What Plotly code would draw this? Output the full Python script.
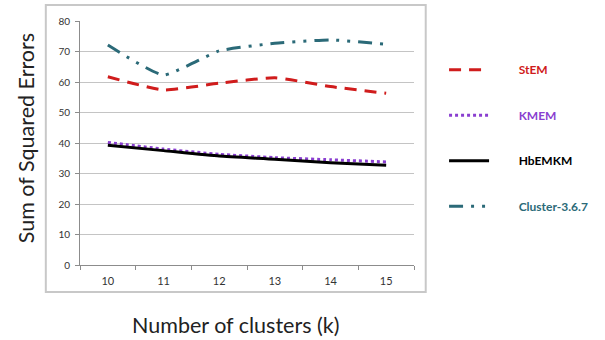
import plotly.graph_objects as go

clusters = ["10", "11", "12", "13", "14", "15"]
stem = [61.7, 57.4, 59.6, 61.4, 58.5, 56.3]
kmem = [40.2, 38.0, 36.3, 35.2, 34.5, 33.8]
hbemkm = [39.3, 37.5, 35.7, 34.7, 33.5, 32.7]
cluster367 = [72.1, 62.3, 70.2, 72.7, 73.8, 72.4]
y_ticks = [0, 10, 20, 30, 40, 50, 60, 70, 80]

series = [
    ("StEM", stem, "#d01c1c", "12px,8px", 3),
    ("KMEM", kmem, "#8a3fd0", "dot", 3),
    ("HbEMKM", hbemkm, "#000000", "solid", 3),
    ("Cluster-3.6.7", cluster367, "#2b6a78", "14px,8px,3px,8px,3px,8px", 3),
]

fig = go.Figure()
for i, (name, vals, color, dash, w) in enumerate(series):
    fig.add_trace(go.Scatter(
        x=clusters, y=vals, mode="lines",
        name=f"&nbsp;&nbsp;&nbsp;&nbsp;&nbsp;&nbsp;&nbsp;&nbsp;<b><span style='color:{color}'>{name}</span></b>",
        line=dict(color=color, dash=dash, width=w, shape="spline", smoothing=0.45),
        legendgroup=str(i),
    ))

font = "Lato, 'Open Sans', sans-serif"
fig.update_layout(
    width=605, height=340,
    margin=dict(l=80, r=183, t=21, b=75),
    paper_bgcolor="white", plot_bgcolor="white",
    font=dict(family=font, size=11, color="#333333"),
    showlegend=True,
    legend=dict(x=1.09, y=0.86, xanchor="left", yanchor="top",
                tracegroupgap=26.5, font=dict(size=12, family=font),
                itemwidth=40),
    xaxis=dict(
        type="category", range=[-0.5, 5.5],
        showline=True, linecolor="#8c8c8c", linewidth=1,
        ticks="outside", tickson="boundaries", ticklen=4, tickcolor="#8c8c8c",
        showgrid=False, ticklabelstandoff=6,
        tickfont=dict(size=11, color="#333333"),
    ),
    yaxis=dict(
        range=[0, 80], tickvals=y_ticks, showline=True, linecolor="#8c8c8c", linewidth=1,
        ticks="outside", ticklen=4, tickcolor="#8c8c8c",
        showgrid=True, gridcolor="#c4c4c4", gridwidth=1, ticklabelstandoff=3,
        tickfont=dict(size=10, color="#333333"),
        zeroline=False,
    ),
    annotations=[
        dict(text="Number of clusters (k)", xref="paper", yref="paper",
             x=(239 - 80) / 342, y=(265 - 325) / 244, xanchor="center", yanchor="middle",
             showarrow=False, font=dict(size=21.5, color="#222222", family=font)),
        dict(text="Sum of Squared Errors", xref="paper", yref="paper",
             x=(25 - 80) / 342, y=(265 - 138) / 244, xanchor="center", yanchor="middle",
             textangle=-90, showarrow=False, font=dict(size=21.5, color="#222222", family=font)),
    ],
    shapes=[dict(
        type="rect", xref="paper", yref="paper", layer="below",
        x0=(45 - 80) / 342, x1=(434 - 80) / 342,
        y0=(265 - 292) / 244, y1=(265 - 5) / 244,
        line=dict(color="#c8c8c8", width=2), fillcolor="rgba(0,0,0,0)",
    )],
)

fig.write_html("out.html")
